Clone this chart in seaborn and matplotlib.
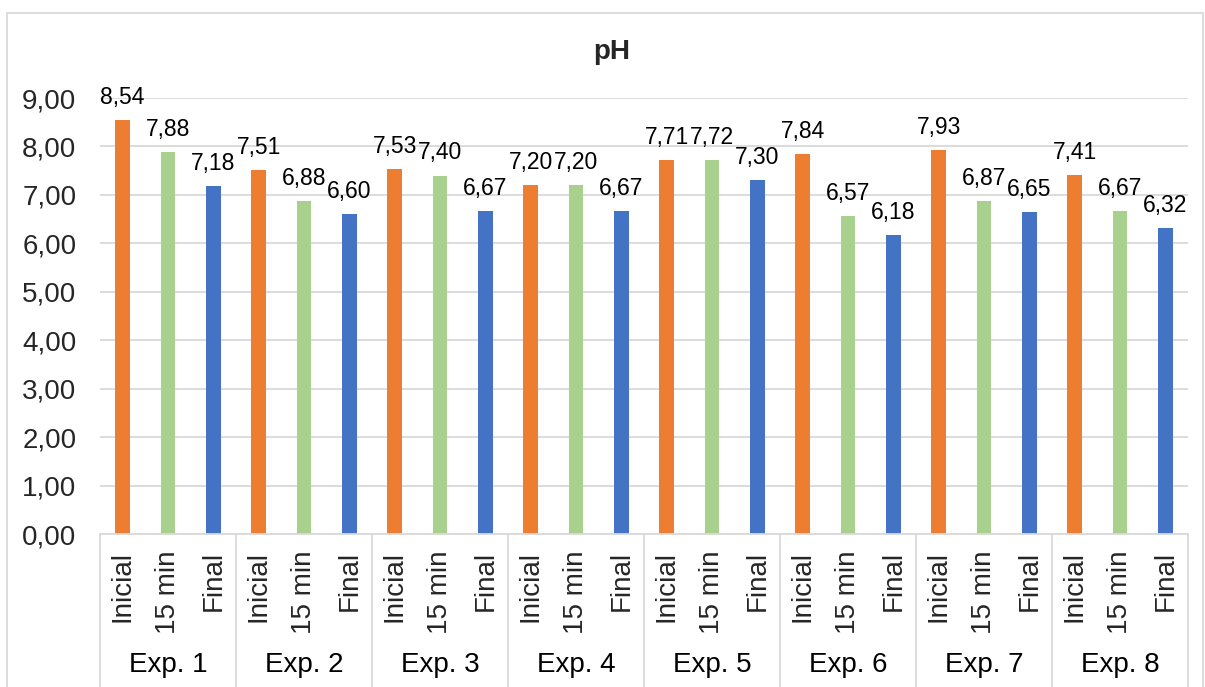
import matplotlib
matplotlib.use("Agg")
import matplotlib.pyplot as plt
import matplotlib.transforms as mtransforms
from matplotlib.patches import Rectangle
import seaborn as sns
import pandas as pd

experiments = ["Exp. 1", "Exp. 2", "Exp. 3", "Exp. 4", "Exp. 5", "Exp. 6", "Exp. 7", "Exp. 8"]
stages = ["Inicial", "15 min", "Final"]
inicial = [8.54, 7.51, 7.53, 7.20, 7.71, 7.84, 7.93, 7.41]
min15 = [7.88, 6.88, 7.40, 7.20, 7.72, 6.57, 6.87, 6.67]
final = [7.18, 6.60, 6.67, 6.67, 7.30, 6.18, 6.65, 6.32]
colors = ["#ED7D31", "#A9D18E", "#4472C4"]
title = "pH"

rows = []
for i, exp in enumerate(experiments):
    for stage, vals in zip(stages, [inicial, min15, final]):
        rows.append({"cat": f"{exp}|{stage}", "exp": exp, "stage": stage, "value": vals[i]})
df = pd.DataFrame(rows)
order = list(df["cat"])

sns.set_theme(style="white")
plt.rcParams["font.family"] = ["Liberation Sans", "DejaVu Sans"]

W, H = 1205, 687
fig = plt.figure(figsize=(W / 100, H / 100), dpi=100)
ax = fig.add_axes([100 / W, (H - 534) / H, 1088 / W, 436 / H])

sns.barplot(data=df, x="cat", y="value", hue="stage", order=order, hue_order=stages,
            palette=colors, dodge=False, width=0.33, legend=False, ax=ax,
            saturation=1, linewidth=0)

fmt = lambda v: f"{v:.2f}".replace(".", ",")
for cont in ax.containers:
    ax.bar_label(cont, labels=[fmt(v) for v in cont.datavalues], padding=8,
                 fontsize=16.5, color="black")

ax.set_ylim(0, 9)
ax.set_xlim(-0.5, len(order) - 0.5)
ax.set_yticks(range(0, 10))
ax.set_yticklabels([fmt(v) for v in range(0, 10)], fontsize=20)
ax.tick_params(axis="y", length=0, pad=17)
ax.yaxis.grid(True, color="#D9D9D9", linewidth=1.3)
ax.set_axisbelow(True)

ax.set_xticks(range(len(order)))
ax.set_xticklabels([c.split("|")[1] for c in order], rotation=90, fontsize=20, va="top")
ax.tick_params(axis="x", length=0, pad=12)
ax.set_xlabel("")
ax.set_ylabel("")

for s in ["left", "right", "top"]:
    ax.spines[s].set_visible(False)
ax.spines["bottom"].set_color("#D9D9D9")
ax.spines["bottom"].set_linewidth(1.3)

trans = mtransforms.blended_transform_factory(ax.transData, ax.transAxes)
ybot = -(H - 534 + 5) / 436
for k in range(len(experiments) + 1):
    xs = -0.5 + 3 * k
    ax.plot([xs, xs], [0, ybot], transform=trans, color="#D9D9D9", lw=1.3, clip_on=False)
for k, exp in enumerate(experiments):
    ax.text(3 * k + 1, -(665 - 534) / 436, exp, transform=trans, ha="center", va="center",
            fontsize=20, color="black")

fig.text(612 / W, 1 - 52 / H, title, ha="center", va="center", fontsize=20, fontweight="bold")

fig.patches.append(Rectangle((7 / W, -0.05), (1203 - 7) / W, (H - 13) / H + 0.05,
                             transform=fig.transFigure, fill=False, edgecolor="#D9D9D9",
                             linewidth=1.3))

fig.savefig("out.png", dpi=100)
